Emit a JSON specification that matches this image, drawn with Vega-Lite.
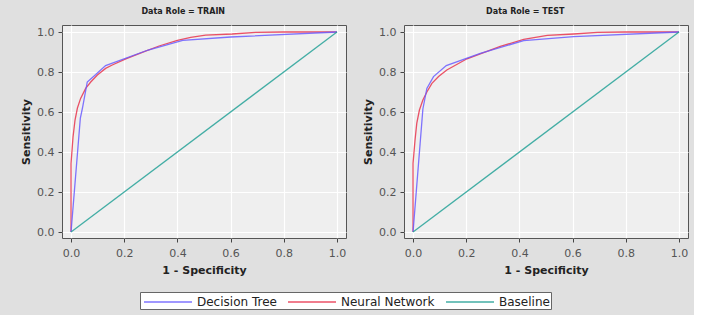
{
  "$schema": "https://vega.github.io/schema/vega-lite/v6.json",
  "background": "#e0e0e0",
  "padding": {"left": 20, "top": 7, "right": 5, "bottom": 5},
  "spacing": 15,
  "datasets": {
    "roc": [
      {"role": "TRAIN", "model": "Neural Network", "step": 0, "fpr": 0, "tpr": 0},
      {"role": "TRAIN", "model": "Neural Network", "step": 1, "fpr": 0, "tpr": 0.343},
      {"role": "TRAIN", "model": "Neural Network", "step": 2, "fpr": 0.0075, "tpr": 0.476},
      {"role": "TRAIN", "model": "Neural Network", "step": 3, "fpr": 0.015, "tpr": 0.56},
      {"role": "TRAIN", "model": "Neural Network", "step": 4, "fpr": 0.024, "tpr": 0.62},
      {"role": "TRAIN", "model": "Neural Network", "step": 5, "fpr": 0.036, "tpr": 0.668},
      {"role": "TRAIN", "model": "Neural Network", "step": 6, "fpr": 0.055, "tpr": 0.718},
      {"role": "TRAIN", "model": "Neural Network", "step": 7, "fpr": 0.074, "tpr": 0.75},
      {"role": "TRAIN", "model": "Neural Network", "step": 8, "fpr": 0.099, "tpr": 0.785},
      {"role": "TRAIN", "model": "Neural Network", "step": 9, "fpr": 0.13, "tpr": 0.818},
      {"role": "TRAIN", "model": "Neural Network", "step": 10, "fpr": 0.155, "tpr": 0.835},
      {"role": "TRAIN", "model": "Neural Network", "step": 11, "fpr": 0.206, "tpr": 0.866},
      {"role": "TRAIN", "model": "Neural Network", "step": 12, "fpr": 0.268, "tpr": 0.898},
      {"role": "TRAIN", "model": "Neural Network", "step": 13, "fpr": 0.331, "tpr": 0.93},
      {"role": "TRAIN", "model": "Neural Network", "step": 14, "fpr": 0.4, "tpr": 0.958},
      {"role": "TRAIN", "model": "Neural Network", "step": 15, "fpr": 0.45, "tpr": 0.973},
      {"role": "TRAIN", "model": "Neural Network", "step": 16, "fpr": 0.506, "tpr": 0.984},
      {"role": "TRAIN", "model": "Neural Network", "step": 17, "fpr": 0.606, "tpr": 0.99},
      {"role": "TRAIN", "model": "Neural Network", "step": 18, "fpr": 0.694, "tpr": 0.998},
      {"role": "TRAIN", "model": "Neural Network", "step": 19, "fpr": 0.8, "tpr": 1.0},
      {"role": "TRAIN", "model": "Neural Network", "step": 20, "fpr": 1.0, "tpr": 1.0},
      {"role": "TRAIN", "model": "Decision Tree", "step": 0, "fpr": 0, "tpr": 0},
      {"role": "TRAIN", "model": "Decision Tree", "step": 1, "fpr": 0.035, "tpr": 0.57},
      {"role": "TRAIN", "model": "Decision Tree", "step": 2, "fpr": 0.043, "tpr": 0.62},
      {"role": "TRAIN", "model": "Decision Tree", "step": 3, "fpr": 0.061, "tpr": 0.75},
      {"role": "TRAIN", "model": "Decision Tree", "step": 4, "fpr": 0.093, "tpr": 0.787},
      {"role": "TRAIN", "model": "Decision Tree", "step": 5, "fpr": 0.13, "tpr": 0.832},
      {"role": "TRAIN", "model": "Decision Tree", "step": 6, "fpr": 0.29, "tpr": 0.91},
      {"role": "TRAIN", "model": "Decision Tree", "step": 7, "fpr": 0.42, "tpr": 0.958},
      {"role": "TRAIN", "model": "Decision Tree", "step": 8, "fpr": 0.6, "tpr": 0.975},
      {"role": "TRAIN", "model": "Decision Tree", "step": 9, "fpr": 1.0, "tpr": 1.0},
      {"role": "TRAIN", "model": "Baseline", "step": 0, "fpr": 0, "tpr": 0},
      {"role": "TRAIN", "model": "Baseline", "step": 1, "fpr": 1, "tpr": 1},
      {"role": "TEST", "model": "Neural Network", "step": 0, "fpr": 0, "tpr": 0},
      {"role": "TEST", "model": "Neural Network", "step": 1, "fpr": 0, "tpr": 0.343},
      {"role": "TEST", "model": "Neural Network", "step": 2, "fpr": 0.0075, "tpr": 0.46},
      {"role": "TEST", "model": "Neural Network", "step": 3, "fpr": 0.014, "tpr": 0.543},
      {"role": "TEST", "model": "Neural Network", "step": 4, "fpr": 0.024, "tpr": 0.61},
      {"role": "TEST", "model": "Neural Network", "step": 5, "fpr": 0.037, "tpr": 0.66},
      {"role": "TEST", "model": "Neural Network", "step": 6, "fpr": 0.052, "tpr": 0.7},
      {"role": "TEST", "model": "Neural Network", "step": 7, "fpr": 0.071, "tpr": 0.743},
      {"role": "TEST", "model": "Neural Network", "step": 8, "fpr": 0.096, "tpr": 0.777},
      {"role": "TEST", "model": "Neural Network", "step": 9, "fpr": 0.127, "tpr": 0.81},
      {"role": "TEST", "model": "Neural Network", "step": 10, "fpr": 0.203, "tpr": 0.866},
      {"role": "TEST", "model": "Neural Network", "step": 11, "fpr": 0.278, "tpr": 0.903},
      {"role": "TEST", "model": "Neural Network", "step": 12, "fpr": 0.328, "tpr": 0.928},
      {"role": "TEST", "model": "Neural Network", "step": 13, "fpr": 0.416, "tpr": 0.963},
      {"role": "TEST", "model": "Neural Network", "step": 14, "fpr": 0.505, "tpr": 0.983},
      {"role": "TEST", "model": "Neural Network", "step": 15, "fpr": 0.604, "tpr": 0.99},
      {"role": "TEST", "model": "Neural Network", "step": 16, "fpr": 0.693, "tpr": 0.998},
      {"role": "TEST", "model": "Neural Network", "step": 17, "fpr": 0.8, "tpr": 1.0},
      {"role": "TEST", "model": "Neural Network", "step": 18, "fpr": 1.0, "tpr": 1.0},
      {"role": "TEST", "model": "Decision Tree", "step": 0, "fpr": 0, "tpr": 0},
      {"role": "TEST", "model": "Decision Tree", "step": 1, "fpr": 0.037, "tpr": 0.615},
      {"role": "TEST", "model": "Decision Tree", "step": 2, "fpr": 0.052, "tpr": 0.718},
      {"role": "TEST", "model": "Decision Tree", "step": 3, "fpr": 0.077, "tpr": 0.777},
      {"role": "TEST", "model": "Decision Tree", "step": 4, "fpr": 0.125, "tpr": 0.832},
      {"role": "TEST", "model": "Decision Tree", "step": 5, "fpr": 0.253, "tpr": 0.893},
      {"role": "TEST", "model": "Decision Tree", "step": 6, "fpr": 0.416, "tpr": 0.957},
      {"role": "TEST", "model": "Decision Tree", "step": 7, "fpr": 0.604, "tpr": 0.977},
      {"role": "TEST", "model": "Decision Tree", "step": 8, "fpr": 1.0, "tpr": 1.0},
      {"role": "TEST", "model": "Baseline", "step": 0, "fpr": 0, "tpr": 0},
      {"role": "TEST", "model": "Baseline", "step": 1, "fpr": 1, "tpr": 1}
    ]
  },
  "data": {"name": "roc"},
  "hconcat": [
    {
      "title": "Data Role = TRAIN",
      "width": 284,
      "height": 213,
      "transform": [{"filter": "datum.role === 'TRAIN'"}],
      "mark": {"type": "line", "strokeWidth": 1.3, "opacity": 0.85},
      "encoding": {
        "x": {"field": "fpr", "type": "quantitative", "title": "1 - Specificity", "scale": {"domain": [-0.034, 1.034], "nice": false, "zero": false}, "axis": {"values": [0, 0.2, 0.4, 0.6, 0.8, 1.0], "format": ".1f"}},
        "y": {"field": "tpr", "type": "quantitative", "title": "Sensitivity", "scale": {"domain": [-0.03, 1.035], "nice": false, "zero": false}, "axis": {"values": [0, 0.2, 0.4, 0.6, 0.8, 1.0], "format": ".1f"}},
        "color": {"field": "model", "type": "nominal", "scale": {"domain": ["Decision Tree", "Neural Network", "Baseline"], "range": ["#6a5cff", "#e8354e", "#23a196"]}, "legend": {"title": null, "orient": "none", "legendX": 78, "legendY": 267, "direction": "horizontal"}},
        "order": {"field": "step", "type": "quantitative"}
      }
    },
    {
      "title": "Data Role = TEST",
      "width": 284,
      "height": 213,
      "transform": [{"filter": "datum.role === 'TEST'"}],
      "mark": {"type": "line", "strokeWidth": 1.3, "opacity": 0.85},
      "encoding": {
        "x": {"field": "fpr", "type": "quantitative", "title": "1 - Specificity", "scale": {"domain": [-0.034, 1.034], "nice": false, "zero": false}, "axis": {"values": [0, 0.2, 0.4, 0.6, 0.8, 1.0], "format": ".1f"}},
        "y": {"field": "tpr", "type": "quantitative", "title": "Sensitivity", "scale": {"domain": [-0.03, 1.035], "nice": false, "zero": false}, "axis": {"values": [0, 0.2, 0.4, 0.6, 0.8, 1.0], "format": ".1f"}},
        "color": {"field": "model", "type": "nominal", "scale": {"domain": ["Decision Tree", "Neural Network", "Baseline"], "range": ["#6a5cff", "#e8354e", "#23a196"]}, "legend": {"title": null, "orient": "none", "legendX": 78, "legendY": 267, "direction": "horizontal"}},
        "order": {"field": "step", "type": "quantitative"}
      }
    }
  ],
  "resolve": {"legend": {"color": "shared"}},
  "config": {
    "font": "DejaVu Sans",
    "view": {"fill": "#efefef", "stroke": "#555555", "strokeWidth": 1},
    "title": {"fontSize": 8, "fontWeight": "bold", "color": "#222222", "offset": 9, "anchor": "middle", "frame": "bounds"},
    "axis": {
      "domain": false,
      "grid": true,
      "gridColor": "#ffffff",
      "gridWidth": 1.2,
      "tickColor": "#444444",
      "tickSize": 4,
      "labelColor": "#555555",
      "labelFontSize": 11,
      "labelPadding": 4,
      "titleFontSize": 11,
      "titleFontWeight": "bold",
      "titleColor": "#222222"
    },
    "axisX": {"titlePadding": 6, "labelPadding": 5},
    "axisY": {"titlePadding": 5},
    "legend": {
      "fillColor": "#ffffff",
      "strokeColor": "#666666",
      "padding": 1,
      "symbolType": "M-3,0H3",
      "symbolSize": 256,
      "symbolOffset": 18,
      "symbolStrokeWidth": 1.3,
      "labelFontSize": 12,
      "labelColor": "#222222",
      "labelOffset": 20,
      "columnPadding": 8
    }
  }
}
